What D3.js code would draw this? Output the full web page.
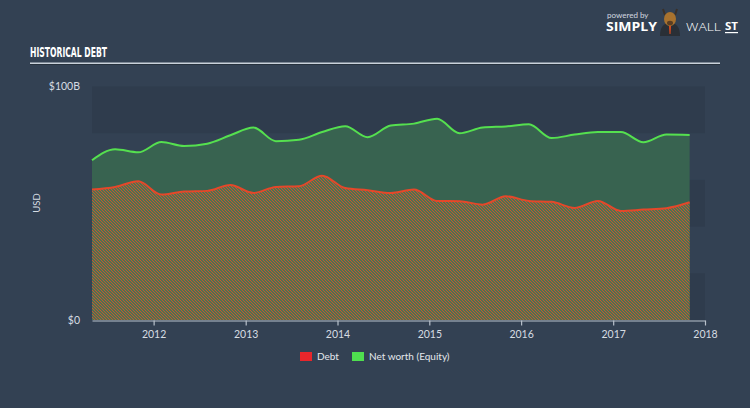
<!DOCTYPE html>
<html><head><meta charset="utf-8">
<script src="https://cdn.jsdelivr.net/npm/d3@7"></script>
<style>
html,body{margin:0;padding:0;background:#334153;}
svg{display:block;}
</style></head>
<body>
<svg id="chart" width="750" height="408"></svg>
<script>
const dates = ["2011-05-01","2011-08-01","2011-11-01","2012-02-01","2012-05-01","2012-08-01","2012-11-01",
"2013-02-01","2013-05-01","2013-08-01","2013-11-01","2014-02-01","2014-05-01","2014-08-01","2014-11-01",
"2015-02-01","2015-05-01","2015-08-01","2015-11-01","2016-02-01","2016-05-01","2016-08-01","2016-11-01",
"2017-02-01","2017-05-01","2017-08-01","2017-11-01"];
const equity = [68.4,73.1,71.8,76.2,74.5,75.5,79.1,82.4,76.6,77.2,80.5,83.0,78.3,83.3,84.1,86.2,80.0,82.4,82.9,83.8,77.9,79.4,80.5,80.5,76.1,79.4,79.2];
const debt = [55.9,57.0,59.4,53.7,55.0,55.3,57.8,54.4,57.0,57.3,61.8,56.5,55.6,54.4,55.9,51.0,50.9,49.4,53.0,51.0,50.6,48.0,51.0,46.7,47.3,47.9,50.4];
const yearTicks = ["2012","2013","2014","2015","2016","2017","2018"];
const yTickLabels = ["$0","$100B"];
const legendItems = ["Debt","Net worth (Equity)"];

const svg = d3.select("#chart");
const parse = d3.timeParse("%Y-%m-%d");
const data = dates.map((d,i)=>({date:parse(d), equity:equity[i], debt:debt[i]}));

const x = d3.scaleTime().domain([parse("2011-05-01"), parse("2018-01-01")]).range([92,705]);
const y = d3.scaleLinear().domain([0,100]).range([320,86.5]);

const defs = svg.append("defs");
const pat = defs.append("pattern").attr("id","hatch").attr("patternUnits","userSpaceOnUse")
  .attr("width",3).attr("height",3);
pat.append("rect").attr("width",3).attr("height",3).attr("fill","#4b7552");
[0,1,2].forEach(i=>{
  pat.append("rect").attr("x",i).attr("y",i).attr("width",1).attr("height",1).attr("fill","#c9522e");
});

// background bands
const bands = [0,40,80];
svg.append("g").selectAll("rect").data(bands).join("rect")
  .attr("x",x.range()[0]).attr("width",x.range()[1]-x.range()[0])
  .attr("y",d=>y(d+20)).attr("height",d=>y(d)-y(d+20))
  .attr("fill","#2f3c4d");

// title
svg.append("text").attr("x",30).attr("y",57).text("HISTORICAL DEBT")
  .attr("font-family","'Liberation Sans Narrow','DejaVu Sans Condensed',sans-serif")
  .attr("font-weight","bold").attr("font-size",13.5).attr("fill","#ffffff")
  .attr("textLength",77).attr("lengthAdjust","spacingAndGlyphs");
svg.append("rect").attr("x",30).attr("y",62.5).attr("width",690).attr("height",1.5).attr("fill","#c9d1da");
svg.append("rect").attr("x",30).attr("y",64).attr("width",690).attr("height",0.8).attr("fill","#222c38");

// logo
const logo = svg.append("g");
logo.append("text").attr("x",607).attr("y",18).text("powered by")
  .attr("font-family","Lato,'Open Sans',sans-serif").attr("font-size",8).attr("fill","#d4dae0");
logo.append("text").attr("x",606).attr("y",31).text("SIMPLY")
  .attr("font-family","'Open Sans',Lato,sans-serif").attr("font-weight","bold").attr("font-size",11.5).attr("fill","#ffffff")
  .attr("textLength",51).attr("lengthAdjust","spacingAndGlyphs");
logo.append("path").attr("d","M660,36 Q660,23 670,23 Q680,23 680,36 Z").attr("fill","#2a2f36");
logo.append("path").attr("d","M663,9 L665,15 M677,9 L675,15").attr("stroke","#3a3028").attr("stroke-width",2);
logo.append("ellipse").attr("cx",670).attr("cy",19).attr("rx",6).attr("ry",7).attr("fill","#a8722e");
logo.append("ellipse").attr("cx",670).attr("cy",23).attr("rx",3).attr("ry",2.2).attr("fill","#5a3d22");
logo.append("path").attr("d","M669,26 L671,26 L670.5,34 L669.5,34 Z").attr("fill","#e04a1c");
logo.append("text").attr("x",686).attr("y",31).text("WALL")
  .attr("font-family","'Open Sans',Lato,sans-serif").attr("font-weight",300).attr("font-size",11.5).attr("fill","#ffffff")
  .attr("textLength",35).attr("lengthAdjust","spacingAndGlyphs");
logo.append("text").attr("x",725).attr("y",30).text("ST")
  .attr("font-family","'Open Sans',Lato,sans-serif").attr("font-weight","bold").attr("font-size",10).attr("fill","#ffffff")
  .attr("textLength",13).attr("lengthAdjust","spacingAndGlyphs");
logo.append("rect").attr("x",725).attr("y",32).attr("width",13).attr("height",1.2).attr("fill","#ffffff");

// areas
const curve = d3.curveMonotoneX;
const areaEq = d3.area().x(d=>x(d.date)).y0(y(0)).y1(d=>y(d.equity)).curve(curve);
const areaDebt = d3.area().x(d=>x(d.date)).y0(y(0)).y1(d=>y(d.debt)).curve(curve);
const lineEq = d3.line().x(d=>x(d.date)).y(d=>y(d.equity)).curve(curve);
const lineDebt = d3.line().x(d=>x(d.date)).y(d=>y(d.debt)).curve(curve);

svg.append("path").datum(data).attr("d",areaEq).attr("fill","#386350");
svg.append("path").datum(data).attr("d",areaDebt).attr("fill","url(#hatch)");
svg.append("path").datum(data).attr("d",lineEq).attr("fill","none").attr("stroke","#55e04f").attr("stroke-width",2);
svg.append("path").datum(data).attr("d",lineDebt).attr("fill","none").attr("stroke","#e4482a").attr("stroke-width",2);

// x axis
const xAxis = d3.axisBottom(x)
  .tickValues(yearTicks.map(t=>parse(t+"-01-01")))
  .tickFormat(d3.timeFormat("%Y")).tickSize(5).tickSizeOuter(0);
const gx = svg.append("g").attr("transform","translate(0,320.5)").call(xAxis);
gx.select(".domain").attr("stroke","#b8c1cb").attr("stroke-width",1.2);
gx.selectAll(".tick line").attr("stroke","#b8c1cb").attr("stroke-width",1.2);
gx.selectAll(".tick text").attr("fill","#d6dce2").attr("font-size",10.5)
  .attr("font-family","Lato,'Open Sans',sans-serif").attr("dy","0.95em");

// y labels
svg.append("g").selectAll("text").data([0,100]).join("text")
  .attr("x",80).attr("y",d=>y(d)).attr("dy","0.35em").attr("text-anchor","end")
  .text((d,i)=>yTickLabels[i])
  .attr("font-family","Lato,'Open Sans',sans-serif").attr("font-size",10.5).attr("fill","#d6dce2");
svg.append("text").attr("transform","translate(40,203) rotate(-90)").attr("text-anchor","middle")
  .text("USD").attr("font-family","Lato,'Open Sans',sans-serif").attr("font-size",9.5).attr("fill","#d6dce2");

// legend
const legColors = ["#e8262b","#4fdf4f"];
const legX = [300,352];
const lg = svg.append("g");
legendItems.forEach((t,i)=>{
  lg.append("rect").attr("x",legX[i]).attr("y",352).attr("width",12).attr("height",9).attr("fill",legColors[i]);
  lg.append("text").attr("x",legX[i]+17).attr("y",360).text(t)
    .attr("font-family","Lato,'Open Sans',sans-serif").attr("font-size",10).attr("fill","#e4e8ec");
});
</script>
</body></html>
